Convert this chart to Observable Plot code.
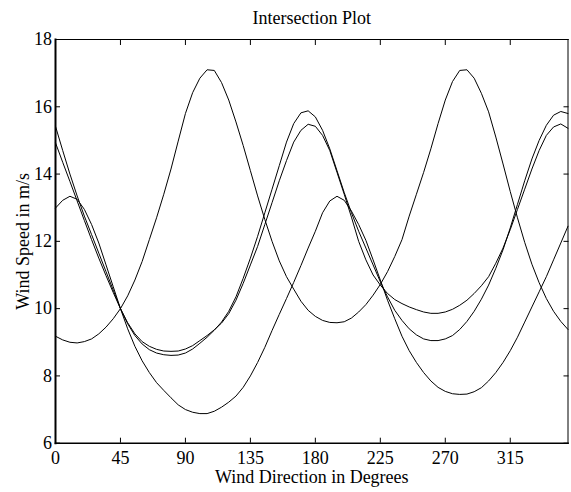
<!DOCTYPE html>
<html>
<head>
<meta charset="utf-8">
<script src="https://cdn.jsdelivr.net/npm/d3@7"></script>
<script src="https://cdn.jsdelivr.net/npm/@observablehq/plot@0.6"></script>
<style>
  html, body { margin: 0; padding: 0; background: #ffffff; }
</style>
</head>
<body>
<div id="chart"></div>
<script>
// ---- Data ----
const titleText = "Intersection Plot";
const xLabel = "Wind Direction in Degrees";
const yLabel = "Wind Speed in m/s";

const xTicks = [0, 45, 90, 135, 180, 225, 270, 315];
const yTicks = [6, 8, 10, 12, 14, 16, 18];

const directions = [
  0, 5, 10, 15, 20, 25, 30, 35, 40, 45, 50, 55, 60, 65, 70, 75, 80, 85,
  90, 95, 100, 105, 110, 115, 120, 125, 130, 135, 140, 145, 150, 155, 160, 165, 170, 175,
  180, 185, 190, 195, 200, 205, 210, 215, 220, 225, 230, 235, 240, 245, 250, 255, 260, 265,
  270, 275, 280, 285, 290, 295, 300, 305, 310, 315, 320, 325, 330, 335, 340, 345, 350, 355
];

// curve with the two tall peaks (~17.1)
const speedP = [
  9.18, 9.07, 9.00, 8.98, 9.02, 9.10, 9.25, 9.45, 9.70, 10.00, 10.38, 10.85, 11.40, 12.05, 12.70, 13.40, 14.15, 14.98,
  15.80, 16.42, 16.85, 17.10, 17.08, 16.72, 16.20, 15.55, 14.85, 14.10, 13.35, 12.65, 12.00, 11.42, 10.95, 10.58, 10.22, 9.95,
  9.77, 9.65, 9.59, 9.58, 9.61, 9.72, 9.90, 10.12, 10.40, 10.72, 11.10, 11.55, 12.05, 12.75, 13.40, 14.05, 14.75, 15.50,
  16.20, 16.75, 17.08, 17.10, 16.85, 16.40, 15.85, 15.10, 14.30, 13.48, 12.70, 11.97, 11.32, 10.77, 10.30, 9.92, 9.62, 9.38
];

// curve with the low peaks (~13.3) and deep troughs
const speedQ = [
  12.99, 13.22, 13.34, 13.25, 12.95, 12.50, 11.95, 11.30, 10.65, 10.00, 9.40, 8.88, 8.45, 8.10, 7.80, 7.57, 7.35, 7.14,
  7.00, 6.92, 6.88, 6.88, 6.95, 7.07, 7.22, 7.40, 7.66, 8.00, 8.40, 8.85, 9.35, 9.83, 10.30, 10.78, 11.28, 11.80,
  12.30, 12.85, 13.20, 13.34, 13.22, 12.90, 12.50, 12.03, 11.45, 10.85, 10.25, 9.70, 9.18, 8.75, 8.40, 8.10, 7.85, 7.66,
  7.54, 7.47, 7.45, 7.46, 7.53, 7.65, 7.85, 8.10, 8.40, 8.75, 9.15, 9.60, 10.05, 10.50, 10.95, 11.45, 11.95, 12.45
];

// pair of close curves, higher peaks (~15.9)
const speedA = [
  15.42, 14.70, 14.00, 13.35, 12.75, 12.20, 11.65, 11.10, 10.55, 10.00, 9.55, 9.20, 8.95, 8.78, 8.68, 8.63, 8.61, 8.62,
  8.68, 8.80, 8.97, 9.15, 9.36, 9.60, 9.92, 10.35, 10.90, 11.50, 12.15, 12.85, 13.55, 14.25, 14.95, 15.50, 15.82, 15.88,
  15.70, 15.30, 14.75, 14.10, 13.45, 12.85, 12.30, 11.80, 11.30, 10.80, 10.35, 9.95, 9.65, 9.40, 9.22, 9.10, 9.05, 9.05,
  9.10, 9.20, 9.38, 9.62, 9.92, 10.28, 10.70, 11.20, 11.75, 12.40, 13.10, 13.80, 14.45, 15.00, 15.45, 15.75, 15.86, 15.80
];

// pair of close curves, lower peaks (~15.5)
const speedB = [
  14.93, 14.35, 13.78, 13.20, 12.62, 12.05, 11.50, 10.98, 10.48, 10.00, 9.58, 9.25, 9.02, 8.88, 8.79, 8.74, 8.73, 8.74,
  8.80, 8.90, 9.05, 9.20, 9.37, 9.57, 9.85, 10.25, 10.75, 11.30, 11.85, 12.50, 13.15, 13.80, 14.40, 14.95, 15.30, 15.48,
  15.42, 15.15, 14.70, 14.05, 13.40, 12.72, 12.00, 11.45, 11.00, 10.70, 10.45, 10.27, 10.15, 10.05, 9.97, 9.90, 9.86, 9.86,
  9.90, 9.98, 10.10, 10.25, 10.45, 10.68, 10.95, 11.35, 11.80, 12.35, 12.95, 13.55, 14.15, 14.70, 15.15, 15.40, 15.49, 15.36
];

const seriesNames = ["P", "Q", "A", "B"];
const seriesValues = [speedP, speedQ, speedA, speedB];

// ---- Build long table for Plot ----
const rows = [];
seriesNames.forEach((name, s) => {
  directions.forEach((d, i) => {
    rows.push({series: name, direction: d, speed: seriesValues[s][i]});
  });
});

const fontFamily = "'Liberation Serif', 'Times New Roman', 'DejaVu Serif', serif";

const chart = Plot.plot({
  width: 571,
  height: 492,
  marginLeft: 55,
  marginRight: 3.5,
  marginTop: 39,
  marginBottom: 49.3,
  style: {fontFamily, fontSize: "18px", color: "black", background: "white", overflow: "visible"},
  x: {domain: [0, 355]},
  y: {domain: [6, 18]},
  marks: [
    Plot.line(rows, {x: "direction", y: "speed", z: "series", stroke: "black", strokeWidth: 1}),
    Plot.frame({anchor: "top", stroke: "black", strokeWidth: 1}),
    Plot.frame({anchor: "right", stroke: "black", strokeWidth: 1}),
    Plot.frame({anchor: "left", stroke: "black", strokeWidth: 2}),
    Plot.frame({anchor: "bottom", stroke: "black", strokeWidth: 1.6}),
    Plot.axisX(xTicks, {anchor: "bottom", tickSize: -5, tickPadding: 13, label: null, fontSize: 18, stroke: "black", fill: "black"}),
    Plot.axisX(xTicks, {anchor: "top", tickSize: -5, tickFormat: () => "", label: null, stroke: "black"}),
    Plot.axisY(yTicks, {anchor: "left", tickSize: -5, tickPadding: 8.5, label: null, fontSize: 18, stroke: "black", fill: "black"}),
    Plot.axisY(yTicks, {anchor: "right", tickSize: -5, tickFormat: () => "", label: null, stroke: "black"}),
    Plot.text([titleText], {text: d => d, frameAnchor: "top", dy: -21, lineAnchor: "middle", textAnchor: "middle", fontSize: 18, fill: "black"}),
    Plot.text([xLabel], {text: d => d, frameAnchor: "bottom", dy: 34, lineAnchor: "middle", textAnchor: "middle", fontSize: 18, fill: "black"}),
    Plot.text([yLabel], {text: d => d, frameAnchor: "left", dx: -32.5, rotate: -90, lineAnchor: "middle", textAnchor: "middle", fontSize: 18, fill: "black"})
  ]
});

document.getElementById("chart").appendChild(chart);
</script>
</body>
</html>
